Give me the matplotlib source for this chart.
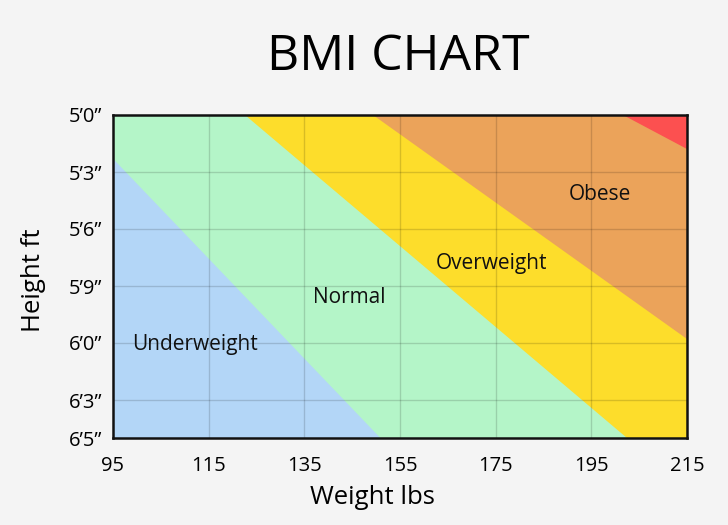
import matplotlib
matplotlib.use("Agg")
import matplotlib.pyplot as plt
from matplotlib.patches import Polygon

plt.rcParams['font.family'] = ['Open Sans', 'DejaVu Sans']

# Axis ranges
weight_min, weight_max = 95, 215
height_min, height_max = 60, 77  # inches (5'0" .. 6'5")

weight_ticks = [95, 115, 135, 155, 175, 195, 215]
height_ticks = [60, 63, 66, 69, 72, 75, 77]
height_tick_labels = ["5\u20190\u201d", "5\u20193\u201d", "5\u20196\u201d", "5\u20199\u201d",
                      "6\u20190\u201d", "6\u20193\u201d", "6\u20195\u201d"]

# Zone boundary lines: (weight, height) endpoints
under_normal = [(95, 62.3), (150.9, 77)]
normal_over = [(122.6, 60), (202.5, 77)]
over_obese = [(149.4, 60), (215, 71.8)]
obese_extreme = [(201.7, 60), (215, 61.8)]

zone_names = ["Underweight", "Normal", "Overweight", "Obese"]
zone_label_pos = [(112.2, 72.1), (144.4, 69.6), (174.1, 67.8), (196.9, 64.2)]

colors = {
    "under": "#b3d6f7",
    "normal": "#b4f5c8",
    "over": "#fddd2b",
    "obese": "#eba35a",
    "extreme": "#fc5050",
}

fig = plt.figure(figsize=(7.28, 5.25), dpi=100)
fig.patch.set_facecolor("#f4f4f4")
ax = fig.add_axes([113/728, 1 - 438/525, 574/728, 323/525])
ax.set_xlim(weight_min, weight_max)
ax.set_ylim(height_max, height_min)

corners = [(weight_min, height_min), (weight_max, height_min),
           (weight_max, height_max), (weight_min, height_max)]
ax.add_patch(Polygon(corners, closed=True, facecolor=colors["normal"], edgecolor="none", zorder=0))

ax.add_patch(Polygon([(weight_min, under_normal[0][1]), under_normal[1], (weight_min, height_max)],
                     closed=True, facecolor=colors["under"], edgecolor="none", zorder=1))
ax.add_patch(Polygon([normal_over[0], (weight_max, height_min), (weight_max, height_max), normal_over[1]],
                     closed=True, facecolor=colors["over"], edgecolor="none", zorder=1))
ax.add_patch(Polygon([over_obese[0], (weight_max, height_min), over_obese[1]],
                     closed=True, facecolor=colors["obese"], edgecolor="none", zorder=2))
ax.add_patch(Polygon([obese_extreme[0], (weight_max, height_min), obese_extreme[1]],
                     closed=True, facecolor=colors["extreme"], edgecolor="none", zorder=3))

for w in weight_ticks[1:-1]:
    ax.axvline(w, color="black", alpha=0.15, lw=1, zorder=4)
for h in height_ticks[1:-1]:
    ax.axhline(h, color="black", alpha=0.15, lw=1, zorder=4)

for name, (x, y) in zip(zone_names, zone_label_pos):
    ax.text(x, y, name, ha="center", va="center", fontsize=15, color="#111111", zorder=5)

ax.set_xticks(weight_ticks)
ax.set_yticks(height_ticks)
ax.set_yticklabels(height_tick_labels)
ax.tick_params(length=0, labelsize=14.5)
ax.tick_params(axis="x", pad=13)
ax.tick_params(axis="y", pad=8)
for s in ax.spines.values():
    s.set_linewidth(1.8)
    s.set_color("#111111")
    s.set_zorder(6)

fig.text(372/728, 1 - 498/525, "Weight lbs", ha="center", va="center", fontsize=18.5)
fig.text(33/728, 1 - 280/525, "Height ft", ha="center", va="center", fontsize=18.5, rotation=90)

fig.text(398/728, 1 - 57/525, "BMI CHART", ha="center", va="center", fontsize=36)

fig.savefig("out.png", dpi=100, facecolor=fig.get_facecolor())
